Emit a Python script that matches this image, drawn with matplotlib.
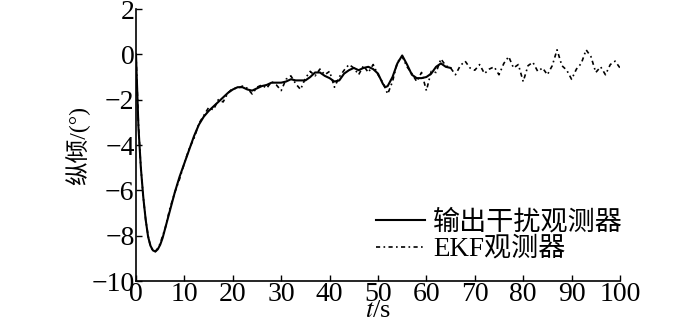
import matplotlib
matplotlib.use("Agg")
import matplotlib.pyplot as plt

plt.rcParams['font.family'] = ['Liberation Serif', 'Noto Sans CJK SC']
plt.rcParams['mathtext.fontset'] = 'stix'
plt.rcParams['axes.unicode_minus'] = True

# ── data ──
t_obs = [0, 0.5, 1.0, 1.5, 2.0, 2.5, 3.0, 3.5, 4.0, 4.5, 5.0, 5.5, 6.0, 7, 8, 9,
         10, 11, 12, 13, 14, 15, 16, 17, 18, 19, 20, 21, 22, 23, 24, 25, 26, 27,
         28, 29, 30, 31, 32, 33, 34, 35, 36, 37, 38, 39, 40, 41, 42, 43, 44, 45,
         46, 47, 48, 49, 50, 51, 51.5, 52, 53, 54, 55, 56, 57, 58, 59, 60, 61,
         62, 63, 64, 65]
y_obs = [0, -3.2, -5.0, -6.3, -7.3, -8.05, -8.45, -8.65, -8.7, -8.6, -8.4, -8.1,
         -7.7, -6.9, -6.1, -5.4, -4.8, -4.2, -3.6, -3.1, -2.75, -2.5, -2.3, -2.1,
         -1.9, -1.7, -1.55, -1.45, -1.45, -1.55, -1.6, -1.5, -1.4, -1.35, -1.25,
         -1.25, -1.25, -1.2, -1.1, -1.15, -1.15, -1.15, -1.0, -0.8, -0.8, -0.95,
         -1.05, -1.2, -1.15, -0.85, -0.7, -0.6, -0.7, -0.6, -0.55, -0.65, -0.85,
         -1.3, -1.45, -1.4, -1.0, -0.4, -0.05, -0.45, -0.9, -1.05, -1.05, -1.0,
         -0.85, -0.55, -0.4, -0.55, -0.6]

t_ekf = [0, 0.5, 1, 1.5, 2, 2.5, 3, 3.5, 4, 4.5, 5, 5.5, 6, 7, 8, 9, 10, 11, 12,
         13, 14, 15, 16, 17, 18, 19, 20, 21, 22, 23, 24, 25, 26, 27, 28, 29, 30,
         31, 32, 33, 34, 35, 36, 37, 38, 39, 40, 41, 42, 43, 44, 45, 46, 47, 48,
         49, 50, 51, 52, 53, 54, 55, 56, 57, 58, 59, 60, 61, 62, 63, 64, 65, 66,
         67, 68, 69, 70, 71, 72, 73, 74, 75, 76, 77, 78, 79, 80, 81, 82, 83, 84,
         85, 86, 87, 88, 89, 90, 91, 92, 93, 94, 95, 96, 97, 98, 99, 100]
y_ekf = [0, -3.1, -5.0, -6.3, -7.3, -8.0, -8.5, -8.65, -8.7, -8.55, -8.35, -8.0,
         -7.7, -6.8, -6.1, -5.5, -4.8, -4.15, -3.7, -3.05, -2.7, -2.35, -2.45,
         -2.0, -2.1, -1.7, -1.5, -1.5, -1.4, -1.5, -1.75, -1.45, -1.35, -1.5,
         -1.2, -1.35, -1.6, -1.1, -0.95, -1.3, -1.55, -1.05, -0.75, -0.95, -0.65,
         -0.9, -0.75, -1.45, -1.0, -0.7, -0.45, -0.6, -0.9, -0.5, -0.8, -0.45,
         -0.9, -1.25, -1.75, -1.2, -0.35, -0.1, -0.55, -0.85, -1.2, -0.8, -1.6,
         -0.75, -0.8, -0.2, -0.5, -0.6, -0.9, -0.5, -0.3, -0.6, -0.7, -0.45,
         -0.85, -0.65, -0.55, -0.9, -0.4, -0.1, -0.6, -0.45, -1.2, -0.5, -0.35,
         -0.75, -0.6, -0.9, -0.5, 0.2, -0.5, -0.7, -1.1, -0.65, -0.4, 0.2, -0.1,
         -0.8, -0.55, -0.9, -0.45, -0.3, -0.6]

x_ticks = [0, 10, 20, 30, 40, 50, 60, 70, 80, 90, 100]
y_ticks = [2, 0, -2, -4, -6, -8, -10]
labels = ['输出干扰观测器', 'EKF观测器']

fig = plt.figure(figsize=(7, 3.24), dpi=100)
ax = fig.add_axes([0.1943, 0.1327, 0.6914, 0.8395])

ax.plot(t_obs, y_obs, color='black', linewidth=1.5, label=labels[0])
ax.plot(t_ekf, y_ekf, color='black', linewidth=1.2, linestyle=(0, (2.5, 2, 1, 2)),
        label=labels[1])

ax.set_xlim(0, 100)
ax.set_ylim(-10, 2)
ax.set_xticks(x_ticks)
ax.set_yticks(y_ticks)
ax.spines['top'].set_visible(False)
ax.spines['right'].set_visible(False)
for s in ('left', 'bottom'):
    ax.spines[s].set_linewidth(1.2)
ax.tick_params(direction='in', length=4, width=1.0, labelsize=20, pad=1)

ax.set_xlabel('$t$/s', fontsize=19, labelpad=-5)
ax.set_ylabel('纵倾/(°)', fontsize=17, labelpad=1)

ax.legend(loc='upper left', bbox_to_anchor=(376 / 700, 1 - 210 / 324),
          bbox_transform=fig.transFigure, frameon=False, fontsize=19.5,
          handlelength=1.8, handletextpad=0.3, labelspacing=0.05,
          borderpad=0, borderaxespad=0)

fig.savefig('out.png', dpi=100)
